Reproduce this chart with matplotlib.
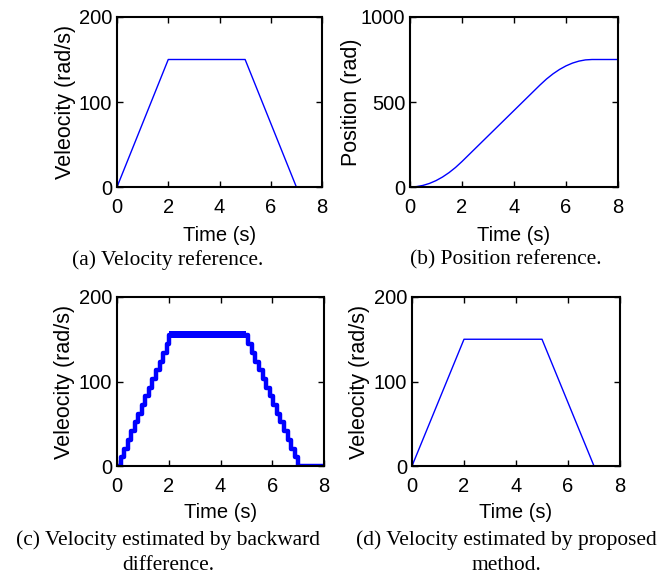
import matplotlib
matplotlib.use('Agg')
import matplotlib.pyplot as plt
from matplotlib import font_manager

# velocity reference / proposed estimate (rad/s)
t_vel = [0, 2, 5, 7, 8]
vel_ref = [0, 150, 150, 0, 0]
vel_est = [0, 150, 150, 0, 0]

# position reference (rad)
t_pos = [0, 0.25, 0.5, 0.75, 1.0, 1.25, 1.5, 1.75, 2.0, 3.0, 4.0, 5.0,
         5.25, 5.5, 5.75, 6.0, 6.25, 6.5, 6.75, 7.0, 8.0]
pos_ref = [0, 2.3, 9.4, 21.1, 37.5, 58.6, 84.4, 114.8, 150, 300, 450, 600,
           635.2, 665.6, 691.4, 712.5, 728.9, 740.6, 747.7, 750, 750]

# backward difference estimate: staircase
t_bd = [0, 0.14, 0.27, 0.41, 0.55, 0.69, 0.82, 0.96, 1.10, 1.24, 1.37, 1.51,
        1.65, 1.79, 1.92, 2.0, 5.0, 5.08, 5.21, 5.35, 5.49, 5.63, 5.76, 5.90,
        6.04, 6.18, 6.31, 6.45, 6.59, 6.73, 6.86, 7.0, 8.0]
v_bd = [0, 10.3, 20.6, 30.9, 41.2, 51.5, 61.8, 72.1, 82.4, 92.7, 103.0, 113.3,
        123.6, 133.9, 144.2, 155.0, 155.0, 144.2, 133.9, 123.6, 113.3, 103.0,
        92.7, 82.4, 72.1, 61.8, 51.5, 41.2, 30.9, 20.6, 10.3, 0, 0]
plateau = (2.0, 5.0, 151, 160)

BLUE = '#0000ff'
names = {f.name for f in font_manager.fontManager.ttflist}
narrow = 'Liberation Sans Narrow' if 'Liberation Sans Narrow' in names else 'Liberation Sans'
sans = 'Liberation Sans'
serif = 'Liberation Serif'

fig = plt.figure(figsize=(6.71, 5.75), dpi=100)
W, H = 671, 575


def make_ax(x0, x1, y0, y1):
    return fig.add_axes([x0 / W, 1 - y1 / H, (x1 - x0) / W, (y1 - y0) / H])


def style(ax, ylim, yticks, ylabel, box, xlab_y, ylab_x):
    x0, x1, y0, y1 = box
    ax.set_xlim(0, 8)
    ax.set_ylim(*ylim)
    ax.set_xticks([0, 2, 4, 6, 8])
    ax.set_yticks(yticks)
    ax.tick_params(direction='in', top=True, right=True, length=4, width=1,
                   labelsize=14.5)
    ax.tick_params(axis='x', pad=8)
    ax.tick_params(axis='y', pad=3.5)
    for lab in ax.get_xticklabels() + ax.get_yticklabels():
        lab.set_fontfamily(narrow)
    for s in ax.spines.values():
        s.set_linewidth(1.5)
    ax.set_xlabel('Time (s)', fontsize=14.5, family=narrow, va='center')
    ax.xaxis.set_label_coords(0.5, -(xlab_y - y1) / (y1 - y0))
    ax.set_ylabel(ylabel, fontsize=15.5, family=sans, va='center')
    ax.yaxis.set_label_coords(-(x0 - ylab_x) / (x1 - x0), 0.5)


box_a = (117, 322, 17, 187)
ax_a = make_ax(*box_a)
ax_a.plot(t_vel, vel_ref, color=BLUE, lw=1)
style(ax_a, (0, 200), [0, 100, 200], 'Veleocity (rad/s)', box_a, 235, 65)

box_b = (410, 618, 17, 187)
ax_b = make_ax(*box_b)
ax_b.plot(t_pos, pos_ref, color=BLUE, lw=1)
style(ax_b, (0, 1000), [0, 500, 1000], 'Position (rad)', box_b, 235, 352)

box_c = (117, 324, 297, 466)
ax_c = make_ax(*box_c)
ax_c.step(t_bd, v_bd, where='post', color=BLUE, lw=3.2)
ax_c.fill_between([plateau[0], plateau[1]], plateau[2], plateau[3], color=BLUE, lw=0)
style(ax_c, (0, 200), [0, 100, 200], 'Veleocity (rad/s)', box_c, 513, 65)

box_d = (412, 620, 297, 466)
ax_d = make_ax(*box_d)
ax_d.plot(t_vel, vel_est, color=BLUE, lw=1)
style(ax_d, (0, 200), [0, 100, 200], 'Veleocity (rad/s)', box_d, 513, 360)

cap = dict(fontsize=15.4, family=serif, ha='center', va='center')
fig.text(168 / W, 1 - 260 / H, '(a) Velocity reference.', **cap)
fig.text(506 / W, 1 - 260 / H, '(b) Position reference.', **cap)
fig.text(168 / W, 1 - 540 / H, '(c) Velocity estimated by backward', **cap)
fig.text(168 / W, 1 - 565 / H, 'difference.', **cap)
fig.text(506 / W, 1 - 540 / H, '(d) Velocity estimated by proposed', **cap)
fig.text(506 / W, 1 - 565 / H, 'method.', **cap)

fig.savefig('out.png', dpi=100)
